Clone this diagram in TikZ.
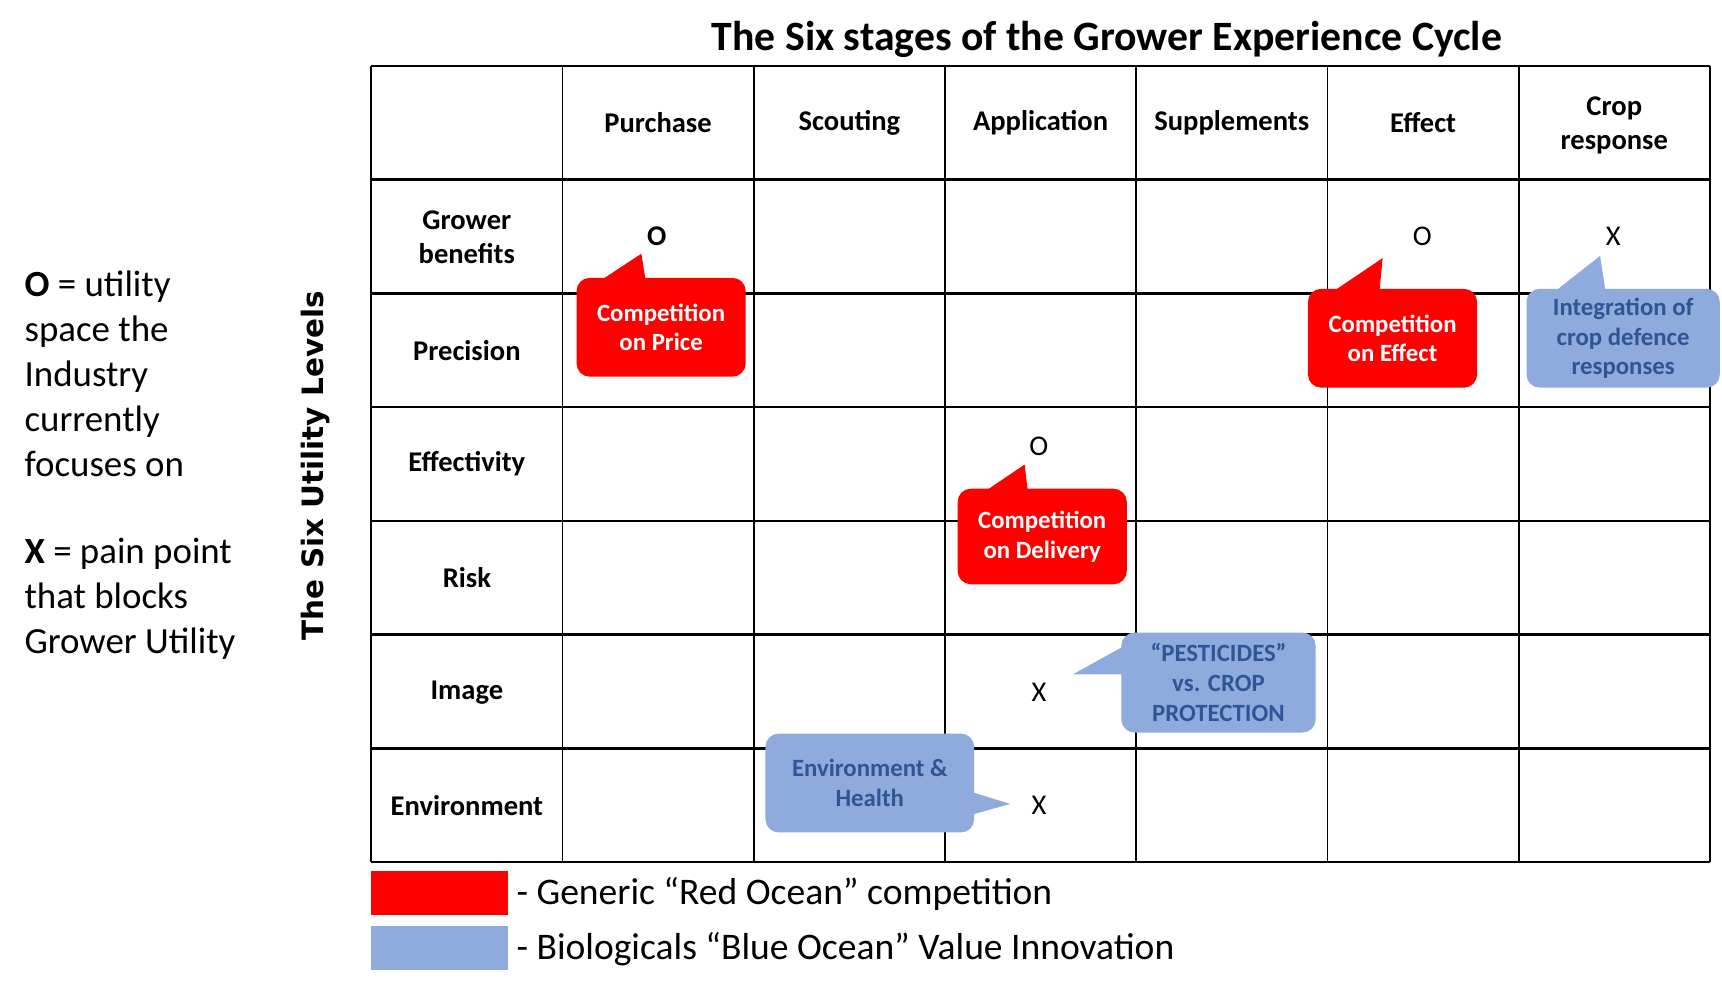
\documentclass[tikz,border=0pt]{standalone}
\usepackage{fontspec}
\setmainfont{Carlito}
\newfontfamily\dejavu{DejaVu Sans}
\definecolor{callblue}{HTML}{8FAADC}
\definecolor{calltext}{HTML}{2F5597}
\definecolor{callred}{HTML}{FF0000}
\begin{document}
\begin{tikzpicture}[x=0.5pt,y=-0.5pt,
  hdr/.style={font=\fontsize{13}{15.5}\selectfont\bfseries, align=center, inner sep=0pt},
  markO/.style={font=\fontsize{13}{15}\selectfont, inner sep=0pt},
  callbase/.style={rounded corners=6pt, inner sep=0pt, align=center,
     font=\fontsize{11.3}{13.5}\selectfont\bfseries},
  redcall/.style={callbase, fill=callred, text=white},
  bluecall/.style={callbase, fill=callblue, text=calltext},
  legtext/.style={font=\fontsize{16.8}{20.5}\selectfont, inner sep=0pt, align=left},
  bottext/.style={font=\fontsize{17.1}{20.5}\selectfont, inner sep=0pt, align=left},
  hline/.style={line width=1.1pt, black},
  vline/.style={line width=0.8pt, black}]
\useasboundingbox (0,0) rectangle (1568,905);

% title
\node[font=\fontsize{19}{22}\selectfont\bfseries, inner sep=0pt] (title) at (1008,36)
  {The Six stages of the Grower Experience Cycle};

% grid
\foreach \j in {0,...,7} \draw[hline] (338,{60+\j*103.571}) -- (1557,{60+\j*103.571});
\foreach \i in {0,...,7} \draw[vline] ({338+\i*174.143},60) -- ({338+\i*174.143},785);

% column headers
\node[hdr] (h1) at (599.2,111.8) {Purchase};
\node[hdr] (h2) at (773.4,111.8) {Scouting};
\node[hdr] (h3) at (947.5,111.8) {Application};
\node[hdr] (h4) at (1121.6,111.8) {Supplements};
\node[hdr] (h5) at (1295.8,111.8) {Effect};
\node[hdr] (h6) at (1469.9,114.5) {Crop\\response};

% row labels
\node[hdr] (r1) at (425.1,215.8) {Grower\\benefits};
\node[hdr] (r2) at (425.1,318.9) {Precision};
\node[hdr] (r3) at (425.1,422.5) {Effectivity};
\node[hdr] (r4) at (425.1,526.1) {Risk};
\node[hdr] (r5) at (425.1,630.5) {Image};
\node[hdr] (r6) at (425.1,733.2) {Environment};

% marks
\node[markO, font=\fontsize{13}{15}\selectfont\bfseries] (m1) at (598,215) {O};
\node[markO] (m2) at (1295,215) {O};
\node[markO] (m3) at (1469,215) {X};
\node[markO] (m4) at (946,406) {O};
\node[markO] (m5) at (946,630) {X};
\node[markO] (m6) at (946,733) {X};

% side title
\node[font=\dejavu\fontsize{13.4}{16}\selectfont\bfseries, rotate=90, inner sep=0pt] (side) at (287,424)
  {The Six Utility Levels};

% left legend
\node[legtext, anchor=west] (legO) at (22,340)
  {\textbf{O} = utility\\space the\\Industry\\currently\\focuses on};
\node[legtext, anchor=west] (legX) at (22,545)
  {\textbf{X} = pain point\\that blocks\\Grower Utility};

% callouts
\fill[callred] (546,256) -- (584,231) -- (588,256) -- cycle;
\node[redcall, minimum width=77pt, minimum height=45pt] (cprice) at (602,298)
  {Competition\\on Price};

\fill[callred] (1213,266) -- (1259,235) -- (1256,266) -- cycle;
\node[redcall, minimum width=77pt, minimum height=45pt] (ceffect) at (1268,308)
  {Competition\\on Effect};

\fill[callblue] (1415,266) -- (1457,233) -- (1462,266) -- cycle;
\node[bluecall, minimum width=88pt, minimum height=45pt] (cinteg) at (1478,308)
  {Integration of\\crop defence\\responses};

\fill[callred] (896,448) -- (933,423) -- (936,448) -- cycle;
\node[redcall, minimum width=77pt, minimum height=43.5pt] (cdeliv) at (949,488.5)
  {Competition\\on Delivery};

\fill[callblue] (1024,588) -- (977,614) -- (1024,614) -- cycle;
\node[bluecall, minimum width=88.5pt, minimum height=45.5pt] (cpest) at (1109.5,621.5)
  {“PESTICIDES”\\vs. CROP\\PROTECTION};

\fill[callblue] (884,721) -- (920,732) -- (884,742) -- cycle;
\node[bluecall, minimum width=95pt, minimum height=45pt] (cenv) at (792,713)
  {Environment \&\\Health};

% bottom legend
\fill[callred] (338,793) rectangle (463,833);
\fill[callblue] (338,843) rectangle (463,883);
\node[bottext, anchor=west] (legred) at (470,814) {- Generic “Red Ocean” competition};
\node[bottext, anchor=west] (legblue) at (470,864) {- Biologicals “Blue Ocean” Value Innovation};
\end{tikzpicture}
\end{document}
